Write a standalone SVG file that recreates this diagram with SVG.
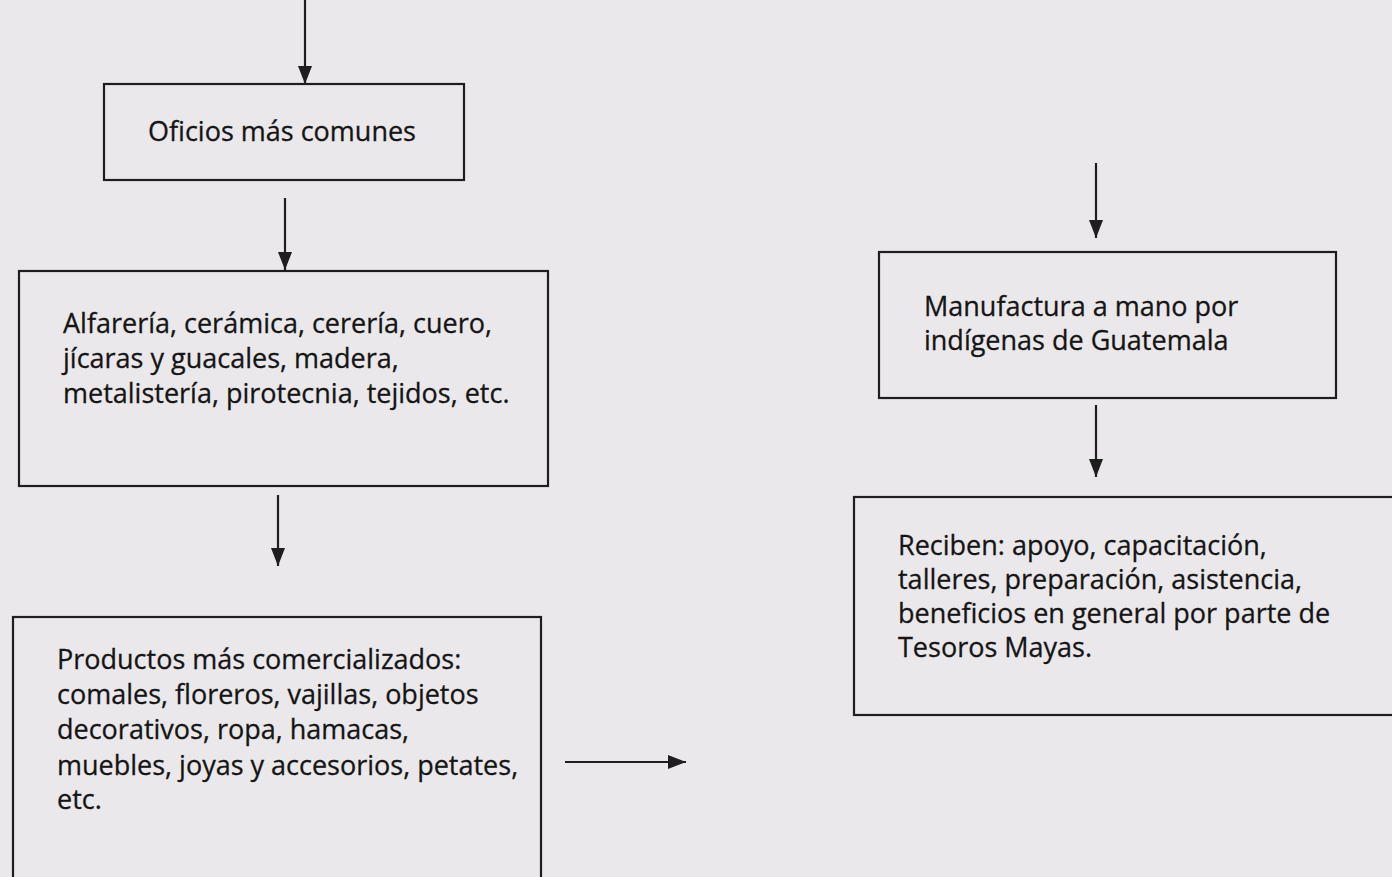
<svg xmlns="http://www.w3.org/2000/svg" width="1392" height="877" viewBox="0 0 1392 877">
<defs>
<marker id="ah" viewBox="0 0 18 14" refX="18" refY="7" markerWidth="18" markerHeight="14" markerUnits="userSpaceOnUse" orient="auto">
<path d="M0,0 L18,7 L0,14 Z" fill="#1e1e1e"/>
</marker>
<style>
.box{fill:none;stroke:#1e1e1e;stroke-width:2.2}
.t{font-family:"Open Sans","Liberation Sans",sans-serif;font-size:27px;fill:#151515;stroke:#151515;stroke-width:0.3}
.c{stroke:#1e1e1e;stroke-width:2.2;fill:none;marker-end:url(#ah)}
</style>
</defs>
<rect width="1392" height="877" fill="#ebe8eb"/>
<g id="connectors">
<line class="c" x1="305" y1="0" x2="305" y2="84"/>
<line class="c" x1="285" y1="198" x2="285" y2="270"/>
<line class="c" x1="278" y1="495" x2="278" y2="566"/>
<line class="c" x1="565" y1="762" x2="686" y2="762"/>
<line class="c" x1="1096" y1="163" x2="1096" y2="238"/>
<line class="c" x1="1096" y1="405" x2="1096" y2="477"/>
</g>
<g id="n1">
<rect class="box" x="104" y="84" width="360" height="96"/>
<text class="t" x="148" y="141">Oficios más comunes</text>
</g>
<g id="n2">
<rect class="box" x="19" y="271" width="529" height="215"/>
<text class="t" x="63" y="333">Alfarería, cerámica, cerería, cuero,</text>
<text class="t" x="63" y="368">jícaras y guacales, madera,</text>
<text class="t" x="63" y="403">metalistería, pirotecnia, tejidos, etc.</text>
</g>
<g id="n3">
<rect class="box" x="13" y="617" width="528" height="280"/>
<text class="t" x="57" y="669">Productos más comercializados:</text>
<text class="t" x="57" y="704">comales, floreros, vajillas, objetos</text>
<text class="t" x="57" y="739">decorativos, ropa, hamacas,</text>
<text class="t" x="57" y="775">muebles, joyas y accesorios, petates,</text>
<text class="t" x="57" y="809">etc.</text>
</g>
<g id="n4">
<rect class="box" x="879" y="252" width="457" height="146"/>
<text class="t" x="924" y="316">Manufactura a mano por</text>
<text class="t" x="924" y="350">indígenas de Guatemala</text>
</g>
<g id="n5">
<rect class="box" x="854" y="497" width="560" height="218"/>
<text class="t" x="898" y="555">Reciben: apoyo, capacitación,</text>
<text class="t" x="898" y="589">talleres, preparación, asistencia,</text>
<text class="t" x="898" y="623">beneficios en general por parte de</text>
<text class="t" x="898" y="657">Tesoros Mayas.</text>
</g>
</svg>
